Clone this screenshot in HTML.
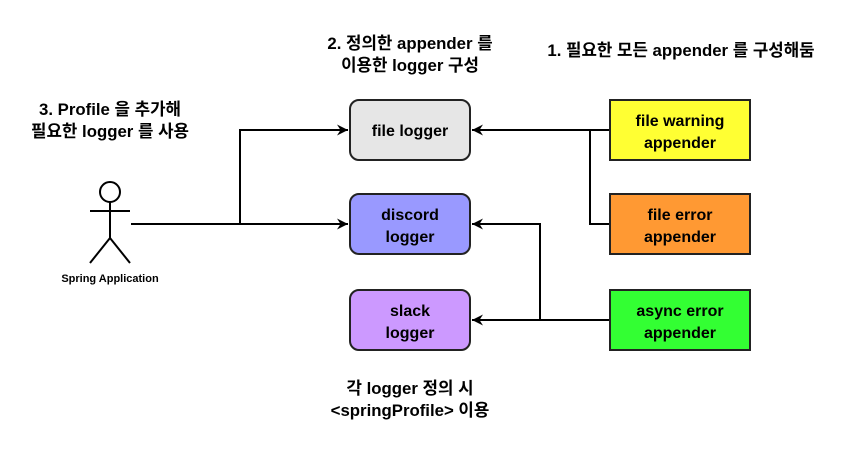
<!DOCTYPE html>
<html><head><meta charset="utf-8"><style>body{margin:0;background:#fff}svg{display:block}text{font-family:"Liberation Sans","Noto Sans CJK KR",sans-serif;font-weight:bold;fill:#000}</style></head><body>
<svg width="850" height="450" viewBox="0 0 850 450">
<defs><marker id="a" markerWidth="12" markerHeight="12" refX="11" refY="6" orient="auto" markerUnits="userSpaceOnUse"><path d="M0,0.5 L11,6 L0,11.5 L3.5,6 Z" fill="#000"/></marker></defs>
<g stroke="#000" stroke-width="2" fill="none">
<circle cx="110" cy="192" r="10"/>
<line x1="90" y1="211" x2="130" y2="211"/>
<line x1="110" y1="202" x2="110" y2="238"/>
<line x1="110" y1="238" x2="90" y2="263"/>
<line x1="110" y1="238" x2="130" y2="263"/>
<polyline points="131,224 348,224" marker-end="url(#a)"/>
<polyline points="240,224 240,130 348,130" marker-end="url(#a)"/>
<polyline points="610,130 472,130" marker-end="url(#a)"/>
<polyline points="610,224 590,224 590,130"/>
<polyline points="610,320 472,320" marker-end="url(#a)"/>
<polyline points="540,320 540,224 472,224" marker-end="url(#a)"/>
</g>
<g stroke="#222" stroke-width="2">
<rect x="350" y="100" width="120" height="60" rx="9" fill="#e6e6e6"/>
<rect x="350" y="194" width="120" height="60" rx="9" fill="#9999ff"/>
<rect x="350" y="290" width="120" height="60" rx="9" fill="#cc99ff"/>
<rect x="610" y="100" width="140" height="60" fill="#ffff33"/>
<rect x="610" y="194" width="140" height="60" fill="#ff9933"/>
<rect x="610" y="290" width="140" height="60" fill="#33ff33"/>
</g>
<g font-size="16" text-anchor="middle">
<text x="410" y="136">file logger</text>
<text x="410" y="220">discord</text><text x="410" y="242">logger</text>
<text x="410" y="316">slack</text><text x="410" y="338">logger</text>
<text x="680" y="126">file warning</text><text x="680" y="148">appender</text>
<text x="680" y="220">file error</text><text x="680" y="242">appender</text>
<text x="680" y="316">async error</text><text x="680" y="338">appender</text>
</g>
<g font-size="16.8" text-anchor="middle">
<text x="410" y="49">2. 정의한 appender 를</text><text x="410" y="71">이용한 logger 구성</text>
<text x="681" y="56">1. 필요한 모든 appender 를 구성해둠</text>
<text x="110" y="115">3. Profile 을 추가해</text><text x="110" y="137">필요한 logger 를 사용</text>
<text x="410" y="394">각 logger 정의 시</text><text x="410" y="416">&lt;springProfile&gt; 이용</text>
</g>
<text x="110" y="282" font-size="11" text-anchor="middle">Spring Application</text>
</svg>
</body></html>
